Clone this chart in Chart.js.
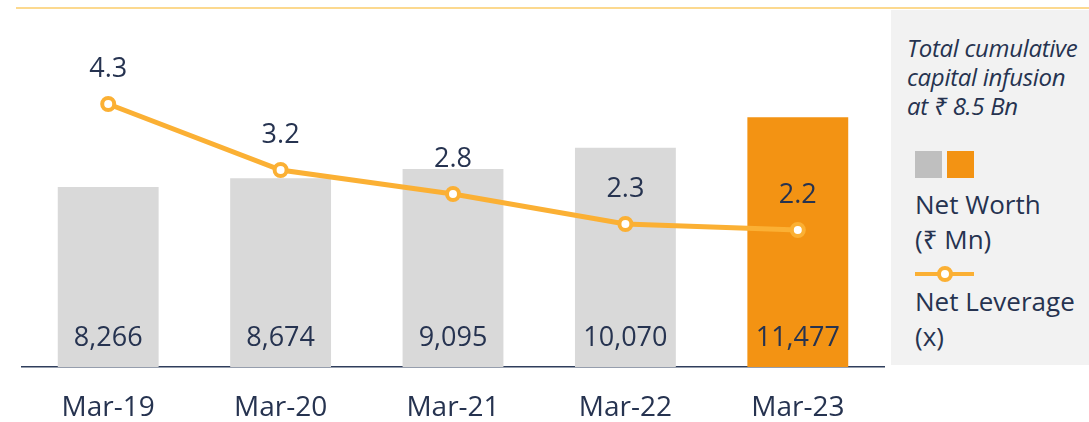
<!DOCTYPE html>
<html>
<head>
<meta charset="utf-8">
<script src="https://cdn.jsdelivr.net/npm/chart.js@4"></script>
<style>
  html, body { margin: 0; padding: 0; background: #fff; }
  #wrap { position: relative; width: 1089px; height: 422px; overflow: hidden; font-family: "Open Sans", "Noto Sans", sans-serif; color: #263350; }
  #topLine { position: absolute; left: 16px; right: 0; top: 7px; height: 2px; background: #FCD98F; }
  #panel { position: absolute; left: 891px; top: 10px; width: 198px; height: 355px; background: #F2F2F2; }
  .note { position: absolute; left: 16px; top: 23px; font-style: italic; font-size: 24px; line-height: 29px; white-space: nowrap; letter-spacing: -0.3px; }
  .sq { position: absolute; top: 141px; width: 27px; height: 27px; }
  .lbl { position: absolute; left: 24px; font-size: 26px; line-height: 35px; white-space: nowrap; }
  #lineKey { position: absolute; left: 24px; top: 262px; width: 59px; height: 4px; background: #FBB034; }
  #lineKey span { position: absolute; left: 22px; top: -6px; width: 8px; height: 8px; border: 4px solid #FBB034; border-radius: 50%; background: #fff; }
  canvas { position: absolute; left: 0; top: 0; }
</style>
</head>
<body>
<div id="wrap">
  <canvas id="grafico" width="1089" height="422"></canvas>
  <div id="topLine"></div>
  <div id="panel">
    <div class="note">Total cumulative<br>capital infusion<br>at ₹ 8.5 Bn</div>
    <div class="sq" style="left:24px;background:#BFBFBF"></div>
    <div class="sq" style="left:56px;background:#F39313"></div>
    <div class="lbl" style="top:177px">Net Worth<br>(₹ Mn)</div>
    <div id="lineKey"><span></span></div>
    <div class="lbl" style="top:274px">Net Leverage<br>(x)</div>
  </div>
</div>
<script>
// Datos del gráfico
const periodos = ['Mar-19', 'Mar-20', 'Mar-21', 'Mar-22', 'Mar-23'];
const patrimonioNeto = [8266, 8674, 9095, 10070, 11477];
const apalancamientoNeto = [4.3, 3.2, 2.8, 2.3, 2.2];
const coloresBarras = ['#D9D9D9', '#D9D9D9', '#D9D9D9', '#D9D9D9', '#F39313'];

const colorTexto = '#263350';
const fuente = '"Open Sans", "Noto Sans", sans-serif';

// Etiquetas de valores: barras abajo, línea encima de cada punto
// (dataset 0 = línea, dataset 1 = barras)
const etiquetasValores = {
    id: 'etiquetasValores',
    afterDatasetsDraw(chart) {
        const ctx = chart.ctx;
        ctx.save();
        ctx.fillStyle = colorTexto;
        ctx.font = '27px ' + fuente;
        ctx.textAlign = 'center';
        ctx.textBaseline = 'middle';
        chart.getDatasetMeta(1).data.forEach((bar, i) => {
            ctx.fillText(patrimonioNeto[i].toLocaleString('en-US'), bar.x, chart.chartArea.bottom - 29);
        });
        chart.getDatasetMeta(0).data.forEach((pt, i) => {
            ctx.fillText(apalancamientoNeto[i].toFixed(1), pt.x, pt.y - 35);
        });
        ctx.restore();
    }
};

function crearGraficoCombinado(canvasId) {
    const ctx = document.getElementById(canvasId);
    if (!ctx) {
        console.error(`No se encontró el canvas con id: ${canvasId}`);
        return;
    }
    new Chart(ctx, {
        data: {
            labels: periodos,
            datasets: [
                {
                    type: 'line',
                    label: 'Net Leverage (x)',
                    data: apalancamientoNeto,
                    yAxisID: 'y1',
                    borderColor: '#FBB034',
                    borderWidth: 5,
                    pointRadius: 6,
                    pointBorderWidth: 4,
                    pointBackgroundColor: '#fff',
                    pointBorderColor: '#FBB034',
                    tension: 0,
                    order: 0
                },
                {
                    type: 'bar',
                    label: 'Net Worth (₹ Mn)',
                    data: patrimonioNeto,
                    yAxisID: 'y',
                    backgroundColor: coloresBarras,
                    categoryPercentage: 0.585,
                    barPercentage: 1,
                    order: 1
                }
            ]
        },
        options: {
            responsive: false,
            animation: false,
            layout: { padding: { left: 22, right: 205, top: 10, bottom: 0 } },
            plugins: { legend: { display: false }, tooltip: { enabled: false } },
            scales: {
                x: {
                    grid: { display: false, drawTicks: false },
                    border: { display: true, color: '#2F3E5C', width: 1.5 },
                    ticks: { color: colorTexto, font: { family: fuente, size: 28 }, padding: 24 },
                    afterFit(scale) { scale.height = 55; }
                },
                y: { display: false, min: 0, max: 16400 },
                y1: { display: false, min: -0.083, max: 5.867 }
            }
        },
        plugins: [etiquetasValores]
    });
}

crearGraficoCombinado('grafico');
</script>
</body>
</html>
